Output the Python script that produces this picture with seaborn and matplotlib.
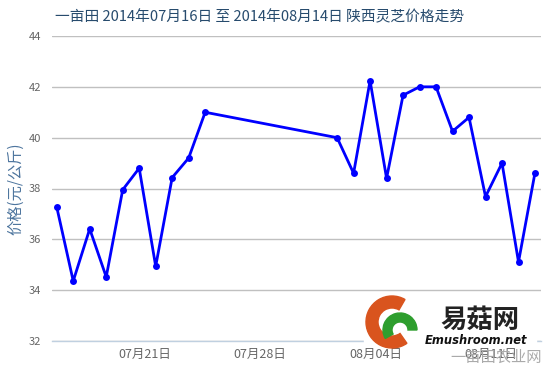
import matplotlib
matplotlib.use("Agg")
import matplotlib.pyplot as plt
from matplotlib.patches import Wedge, Rectangle
import seaborn as sns
import pandas as pd

dates = ["2014-07-16", "2014-07-17", "2014-07-18", "2014-07-19", "2014-07-20",
         "2014-07-21", "2014-07-22", "2014-07-23", "2014-07-24", "2014-07-25",
         "2014-08-02", "2014-08-03", "2014-08-04", "2014-08-05", "2014-08-06",
         "2014-08-07", "2014-08-08", "2014-08-09", "2014-08-10", "2014-08-11",
         "2014-08-12", "2014-08-13", "2014-08-14"]
prices = [37.27, 34.36, 36.41, 34.52, 37.95, 38.80, 34.94, 38.43, 39.20, 41.00,
          40.00, 38.60, 42.24, 38.40, 41.67, 42.00, 42.00, 40.25, 40.80, 37.68,
          39.00, 35.11, 38.62]
tick_dates = ["2014-07-21", "2014-07-28", "2014-08-04", "2014-08-11"]
tick_labels = ["07月21日", "07月28日", "08月04日", "08月11日"]
y_ticks = [32, 34, 36, 38, 40, 42, 44]

title = "一亩田 2014年07月16日 至 2014年08月14日 陕西灵芝价格走势"
y_title = "价格(元/公斤)"

sns.set_theme(style="white")
plt.rcParams['font.family'] = ['Noto Sans CJK SC', 'DejaVu Sans']

df = pd.DataFrame({"date": pd.to_datetime(dates), "price": prices})

fig = plt.figure(figsize=(5.5, 3.67), dpi=100)
ax = fig.add_axes([52 / 550, 26 / 367, 488.7 / 550, 305 / 367])

sns.lineplot(data=df, x="date", y="price", ax=ax, color="#0000FF", linewidth=2,
             marker="o", markersize=5, markeredgewidth=0, zorder=3)

x0 = pd.Timestamp("2014-07-16") - pd.Timedelta(hours=6.9)
x1 = pd.Timestamp("2014-08-14") + pd.Timedelta(hours=8.3)
ax.set_xlim(x0, x1)
ax.set_ylim(32, 44)

ax.set_yticks(y_ticks)
ax.set_yticklabels([str(v) for v in y_ticks], color="#666666", fontsize=8)
ax.yaxis.grid(True, color="#C0C0C0", linewidth=1)
ax.xaxis.grid(False)
for s in ["left", "right", "top"]:
    ax.spines[s].set_visible(False)
ax.spines["bottom"].set_color("#C0D0E0")
ax.spines["bottom"].set_linewidth(1)

ticks = [pd.Timestamp(t) + pd.Timedelta(hours=8) for t in tick_dates]
ax.set_xticks(ticks)
ax.set_xticklabels(tick_labels, color="#666666", fontsize=9)
ax.tick_params(axis="x", length=4, color="#C0D0E0", pad=1)
ax.tick_params(axis="y", length=0, pad=8)
ax.set_xlabel("")
ax.set_ylabel(y_title, color="#4D759E", fontsize=11, labelpad=3)

fig.text(260 / 550, 1 - 17 / 367, title, ha="center", va="center",
         color="#274B6D", fontsize=10.6)

# watermark logo
lax = fig.add_axes([0, 0, 1, 1], facecolor="none")
lax.set_xlim(0, 550)
lax.set_ylim(367, 0)
lax.axis("off")
lax.add_patch(Rectangle((364, 294), 172, 52, color="white", zorder=4))
lax.add_patch(Wedge((392, 322), 26, 55, 300, width=12, color="#D9541E", zorder=5))
lax.add_patch(Wedge((400, 330), 17, 150, 360, width=9, color="#2E9E2E", zorder=6))
lax.text(480, 320, "易菇网", ha="center", va="center", fontsize=19,
         fontweight="bold", fontstyle="italic", color="#222222", zorder=6)
lax.text(476, 341, "Emushroom.net", ha="center", va="center", fontsize=8.3,
         fontweight="bold", fontstyle="italic", color="#111111",
         family="DejaVu Sans", zorder=6)
lax.text(496, 357, "一亩田农业网", ha="center", va="center", fontsize=11,
         color="#AAAAAA", zorder=6)

fig.savefig("out.png", dpi=100)
